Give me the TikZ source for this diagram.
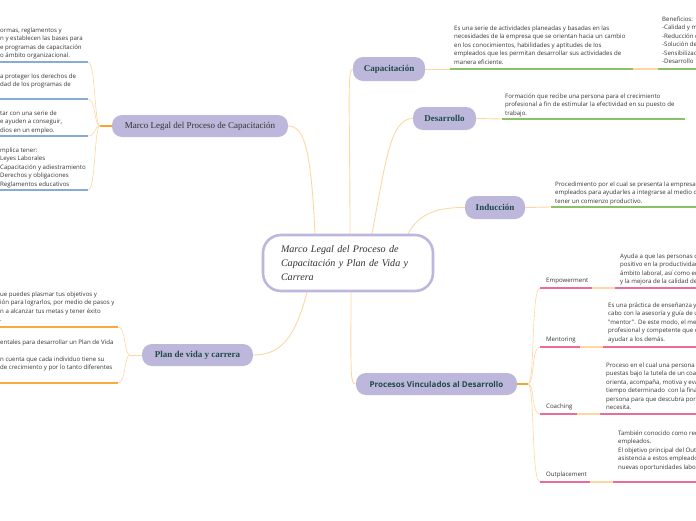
\documentclass[tikz,border=0pt]{standalone}
\usepackage{fontspec}
\setmainfont{Liberation Serif}
\newfontfamily\notefont{Open Sans}
\usetikzlibrary{backgrounds}

\definecolor{lav}{HTML}{BDB7DB}
\definecolor{lavline}{HTML}{BEB6DD}
\definecolor{deep}{HTML}{1F4A48}
\definecolor{ink}{HTML}{333333}
\definecolor{pale}{HTML}{FDD7A1}
\definecolor{amber}{HTML}{F6A42C}
\definecolor{sky}{HTML}{86ACD9}
\definecolor{leaf}{HTML}{8CC267}
\definecolor{rose}{HTML}{EC6B9B}
\definecolor{tang}{HTML}{F8AA3E}

\tikzset{
topic/.style={fill=lav,rounded corners=10pt,inner sep=0pt,minimum height=23pt,text=deep,
  font=\fontsize{9}{10}\selectfont\bfseries},
note/.style={font=\notefont\fontsize{6.1}{8.5}\selectfont,align=left,anchor=north west,
  inner sep=0pt,text=ink},
tag/.style={font=\notefont\fontsize{6.1}{7}\selectfont,anchor=base west,inner sep=0pt,text=ink},
link/.style={draw=pale,line width=0.9pt},
twig/.style={draw=pale,line width=0.6pt},
stub/.style={draw=amber,line width=1.1pt},
rule/.style={line width=1.3pt}
}

\begin{document}
\begin{tikzpicture}[x=1pt,y=-1pt]
\useasboundingbox (0,0) rectangle (696,520);
\clip (0,0) rectangle (696,520);
{
% central topic and main topics
\node[draw=lavline,line width=2.6pt,fill=white,rounded corners=18pt,minimum width=170pt,
  minimum height=56pt,text width=134pt,align=left,text=ink,
  font=\fontsize{10.1}{14}\selectfont\itshape] (c) at (348,263)
  {Marco Legal del Proceso de\\Capacitación y Plan de Vida y\\Carrera};
\node[topic,minimum width=176pt,minimum height=22pt,text=ink,font=\fontsize{9}{10}\selectfont]
  (ml) at (200,126) {Marco Legal del Proceso de Capacitación};
\node[topic,minimum width=72pt,minimum height=24pt] (ca) at (389,69) {Capacitación};
\node[topic,minimum width=63pt] (de) at (444.5,118.5) {Desarrollo};
\node[topic,minimum width=60pt] (in) at (495,207.5) {Inducción};
\node[topic,minimum width=111pt,minimum height=22pt] (pl) at (197.5,355) {Plan de vida y carrera};
\node[topic,minimum width=161pt,minimum height=22pt,font=\notefont\fontsize{8}{9}\selectfont\bfseries]
  (pv) at (436.5,384) {Procesos Vinculados al Desarrollo};
%
\begin{scope}[on background layer]
\draw[link] ([xshift=2pt]c.north) .. controls +(0,-125) and +(-6,0) .. (ca.west);
\draw[link] ([xshift=24pt]c.north) .. controls +(14,-75) and +(-22,0) .. (de.west);
\draw[link] ([xshift=60pt]c.north) .. controls +(12,-22) and +(-25,0) .. (in.west);
\draw[link] ([xshift=-33pt]c.north) .. controls +(-4,-85) and +(16,0) .. (ml.east);
\draw[link] ([xshift=-41pt]c.south) .. controls +(-12,45) and +(28,0) .. (pl.east);
\draw[link] ([xshift=3pt]c.south) .. controls +(0,80) and +(-6,0) .. (pv.west);
\end{scope}
%
% Marco legal: four notes with blue rules
\coordinate (mj) at (100,126);
\draw[stub] (ml.west) -- (mj);
\foreach \y [count=\i] in {62,99,136,190}{
\coordinate (m\i) at (88,\y);
\draw[twig] (mj) .. controls +(-6,0) and +(8,0) .. (m\i);
\draw[rule,sky] (-2,\y) -- (m\i);
}
\node[note] (ma) at (0,27.5) {ormas, reglamentos y\\n y establecen las bases para\\e programas de capacitación\\o ámbito organizacional.};
\node[note] (mb) at (0,73.5) {a proteger los derechos de\\dad de los programas de};
\node[note] (mc) at (0,110.5) {tar con una serie de\\e ayuden a conseguir,\\dios en un empleo.};
\node[note] (md) at (0,147.5) {mplica tener:\\Leyes Laborales\\Capacitación y adiestramiento\\Derechos y obligaciones\\Reglamentos educativos};
%
% Plan de vida: two notes with orange rules
\coordinate (pj) at (130,355);
\draw[link] (pl.west) -- (pj);
\foreach \y [count=\i] in {327,383}{
\coordinate (p\i) at (118,\y);
\draw[twig] (pj) .. controls +(-6,0) and +(8,0) .. (p\i);
\draw[rule,tang] (-2,\y) -- (p\i);
}
\node[note] (pa) at (0,291.5) {ue puedes plasmar tus objetivos y\\ión para lograrlos, por medio de pasos y\\n a alcanzar tus metas y tener éxito\\.};
\node[note] (pb) at (0,339.5) {entales para desarrollar un Plan de Vida\\[8.5pt]n cuenta que cada individuo tiene su\\de crecimiento y por lo tanto diferentes};
%
% Capacitacion, Desarrollo, Induccion: green rules
\coordinate (k1) at (450,69);
\coordinate (k2) at (633,69);
\coordinate (k3) at (658,69);
\coordinate (k4) at (700,69);
\draw[link] (ca.east) -- (k1);
\draw[rule,leaf] (k1) -- (k2);
\draw[rule,pale] (k2) -- (k3);
\draw[rule,leaf] (k3) -- (k4);
\node[note] (ka) at (454,25.5) {Es una serie de actividades planeadas y basadas en las\\necesidades de la empresa que se orientan hacia un cambio\\en los conocimientos, habilidades y aptitudes de los\\empleados que les permitan desarrollar sus actividades de\\manera eficiente.};
\node[note] (kb) at (662,16.5) {Beneficios:\\-Calidad y m\\-Reducción d\\-Solución de\\-Sensibilizac\\-Desarrollo};
%
\coordinate (d1) at (502,119);
\coordinate (d2) at (685,119);
\draw[link] (de.east) -- (d1);
\draw[rule,leaf] (d1) -- (d2);
\node[note] (da) at (505,93.5) {Formación que recibe una persona para el crecimiento\\profesional a fin de estimular la efectividad en su puesto de\\trabajo.};
%
\coordinate (i1) at (551,207);
\coordinate (i2) at (700,207);
\draw[link] (in.east) -- (i1);
\draw[rule,leaf] (i1) -- (i2);
\node[note] (ia) at (555,181.5) {Procedimiento por el cual se presenta la empresa a\\empleados para ayudarles a integrarse al medio d\\tener un comienzo productivo.};
%
% Procesos vinculados: four items with pink rules
\coordinate (vj) at (528,384);
\draw[stub] (pv.east) -- (vj);
\foreach \y/\a/\b/\lab in {288/592/615/Empowerment,347/580/603/Mentoring,414/577/600/Coaching,482/590/613/Outplacement}{
\coordinate (s\lab) at (540,\y);
\draw[twig] (vj) .. controls +(7,0) and +(-9,0) .. (s\lab);
\draw[rule,rose] (s\lab) -- (\a,\y);
\draw[rule,pale] (\a,\y) -- (\b,\y);
\draw[rule,rose] (\b,\y) -- (700,\y);
\node[tag] (t\lab) at (546,\y-6) {\lab};
}
\node[note] (va) at (620,253.5) {Ayuda a que las personas c\\positivo en la productividad\\ámbito laboral, así como en\\y la mejora de la calidad de};
\node[note] (vb) at (608,302.5) {Es una práctica de enseñanza y\\cabo con la asesoría y guía de u\\"mentor". De este modo, el ment\\profesional y competente que co\\ayudar a los demás.};
\node[note] (vc) at (606,362.5) {Proceso en el cual una persona\\puestas bajo la tutela de un coac\\orienta, acompaña, motiva y eval\\tiempo determinado\ \ con la finali\\persona para que descubra por s\\necesita.};
\node[note] (vd) at (618,430.5) {También conocido como rec\\empleados.\\El objetivo principal del Outp\\asistencia a estos empleado\\nuevas oportunidades labor};
}
\end{tikzpicture}
\end{document}
